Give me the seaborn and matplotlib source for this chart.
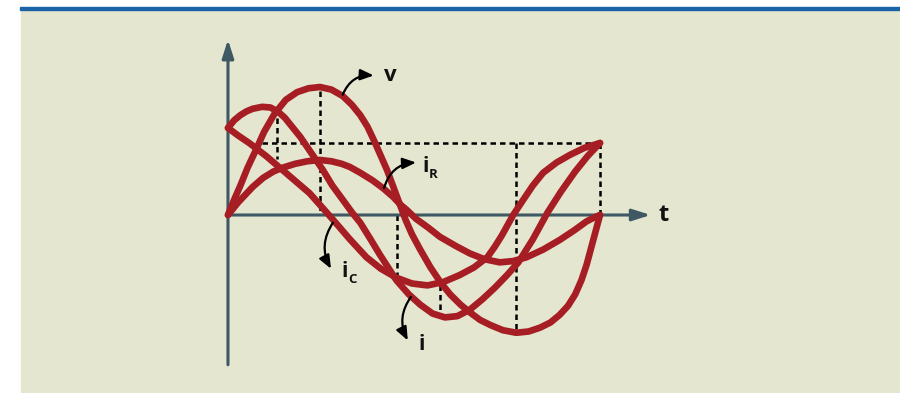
import numpy as np
import pandas as pd
import seaborn as sns
import matplotlib.pyplot as plt
from matplotlib.patches import Rectangle

# phase angle (deg) and amplitude (v peak = 1)
v_deg = [0, 6, 12, 19, 26, 35, 45, 56, 67, 78, 89, 100, 111, 120, 128, 135, 142, 148, 154, 160,
         166, 172, 178, 186, 196, 206, 215, 225, 234, 244, 254, 266, 279, 291, 302, 312, 321,
         329, 336, 342, 347, 351, 355, 358, 360]
v_amp = [0, 0.12, 0.23, 0.37, 0.49, 0.65, 0.79, 0.90, 0.96, 0.99, 1.0, 0.98, 0.93, 0.86, 0.78,
         0.69, 0.57, 0.46, 0.35, 0.22, 0.09, -0.04, -0.15, -0.27, -0.41, -0.53, -0.62, -0.70,
         -0.76, -0.82, -0.86, -0.90, -0.92, -0.91, -0.88, -0.84, -0.78, -0.71, -0.62, -0.51,
         -0.39, -0.27, -0.15, -0.06, 0]

ir_deg = [0, 5, 10, 17, 24, 34, 44, 53, 65, 77, 89, 100, 110, 118, 128, 140, 150, 160, 167, 173,
          182, 194, 205, 220, 234, 248, 263, 276, 289, 305, 321, 335, 347, 353, 360]
ir_amp = [0, 0.05, 0.10, 0.16, 0.22, 0.29, 0.34, 0.37, 0.40, 0.42, 0.43, 0.42, 0.40, 0.375, 0.33,
          0.27, 0.21, 0.14, 0.08, 0.04, -0.03, -0.10, -0.17, -0.24, -0.30, -0.345, -0.37, -0.36,
          -0.33, -0.27, -0.195, -0.12, -0.05, -0.025, 0]

ic_deg = [0, 10, 21, 37, 53, 66, 79, 90, 102, 118, 134, 148, 163, 178, 193, 208, 224, 238, 251,
          258, 265, 276, 285, 295, 305, 318, 331, 345, 360]
ic_amp = [0.68, 0.62, 0.56, 0.46, 0.35, 0.26, 0.17, 0.07, -0.04, -0.19, -0.33, -0.42, -0.49,
          -0.535, -0.55, -0.525, -0.47, -0.41, -0.33, -0.25, -0.16, 0.0, 0.11, 0.23, 0.33, 0.41,
          0.47, 0.525, 0.5625]

i_deg = [0, 6, 12, 18, 24, 33, 41, 48, 55, 62, 70, 81, 92, 101, 111, 120, 128, 138, 147, 155,
         163, 175, 186, 198, 210, 222, 234, 246, 258, 270, 281, 295, 309, 322, 336, 348, 360]
i_amp = [0.68, 0.74, 0.78, 0.81, 0.83, 0.845, 0.84, 0.81, 0.76, 0.69, 0.61, 0.48, 0.35, 0.23,
         0.12, 0.02, -0.06, -0.19, -0.31, -0.41, -0.51, -0.62, -0.70, -0.77, -0.80, -0.79, -0.74,
         -0.66, -0.57, -0.47, -0.37, -0.19, 0.016, 0.18, 0.34, 0.46, 0.5625]

# dotted guides: (x0, y0, x1, y1)
guides = [(33, 0.5625, 360, 0.5625),
          (47.4, 0.76, 47.4, 0.44),
          (89, 0.97, 89, 0.0),
          (163.5, 0.0, 163.5, -0.47),
          (205, -0.55, 205, -0.76),
          (279, 0.5625, 279, -0.92),
          (360, 0.5625, 360, 0.0)]

# labels: (text, subscript, x, y, arrow start, arrow end, curvature)
labels = [("v", "", 151, 1.09, (111, 0.94), (141, 1.09), -0.35),
          ("i", "R", 188, 0.38, (151, 0.21), (182, 0.41), -0.35),
          ("i", "C", 110, -0.44, (101.6, -0.06), (99.7, -0.42), 0.3),
          ("i", "", 184, -1.01, (177, -0.64), (174, -0.98), 0.3)]

curve_col = "#A61E24"
axis_col = "#3E5864"
bg_col = "#E4E6CF"

frames = []
for name, xs, ys in [("v", v_deg, v_amp), ("iR", ir_deg, ir_amp),
                     ("iC", ic_deg, ic_amp), ("i", i_deg, i_amp)]:
    frames.append(pd.DataFrame({"deg": xs, "amp": ys, "wave": name}))
df = pd.concat(frames, ignore_index=True)

fig = plt.figure(figsize=(9, 3.93), dpi=100)
fig.patches.append(Rectangle((21 / 900, 0), 1 - 21 / 900, 383 / 393,
                             transform=fig.transFigure, color=bg_col, zorder=-2))
fig.patches.append(Rectangle((20 / 900, 383 / 393), 1, 3 / 393,
                             transform=fig.transFigure, color="#1A63A6", zorder=-2))

ax = fig.add_axes([0, 0, 1, 1])
ax.set_facecolor("none")

# axes arrows
ax.annotate("", xy=(0, 1.37), xytext=(0, -1.17),
            arrowprops=dict(arrowstyle="-|>,head_length=1.1,head_width=0.35",
                            color=axis_col, lw=2.2, shrinkA=0, shrinkB=0))
ax.annotate("", xy=(409, 0), xytext=(0, 0),
            arrowprops=dict(arrowstyle="-|>,head_length=1.1,head_width=0.35",
                            color=axis_col, lw=2.2, shrinkA=0, shrinkB=0))

for x0, y0, x1, y1 in guides:
    ax.plot([x0, x1], [y0, y1], color="black", lw=1.8, ls=(0, (2.2, 1.6)), zorder=2)

for name in ["iR", "iC", "i", "v"]:
    sns.lineplot(data=df[df.wave == name], x="deg", y="amp", sort=False,
                 estimator=None, color=curve_col, lw=4.8, ax=ax, zorder=3,
                 solid_capstyle="round", solid_joinstyle="round")
ax.set_xlim(-220.6, 650.3)
ax.set_ylim(-1.3906, 1.6797)
ax.axis("off")

font = ["Open Sans", "DejaVu Sans"]
for txt, sub, x, y, a0, a1, rad in labels:
    ax.annotate("", xy=a1, xytext=a0,
                arrowprops=dict(arrowstyle="-|>,head_length=0.8,head_width=0.33",
                                color="black", lw=1.6, shrinkA=0, shrinkB=0,
                                connectionstyle=f"arc3,rad={rad}"), zorder=4)
    size = 16 if txt == "v" else 15
    t = ax.text(x, y, txt, fontsize=size, fontweight="bold", family=font,
                ha="left", va="center", color="#111111", zorder=5)
    if sub:
        ax.annotate(sub, xy=(1.0, 0.1), xycoords=t, fontsize=9.5,
                    fontweight="bold", family=font, ha="left", va="center",
                    color="#111111")

ax.text(417, 0, "t", fontsize=17, fontweight="bold", family=font,
        ha="left", va="center", color="#111111")

fig.savefig("out.png", dpi=100, facecolor="white")
